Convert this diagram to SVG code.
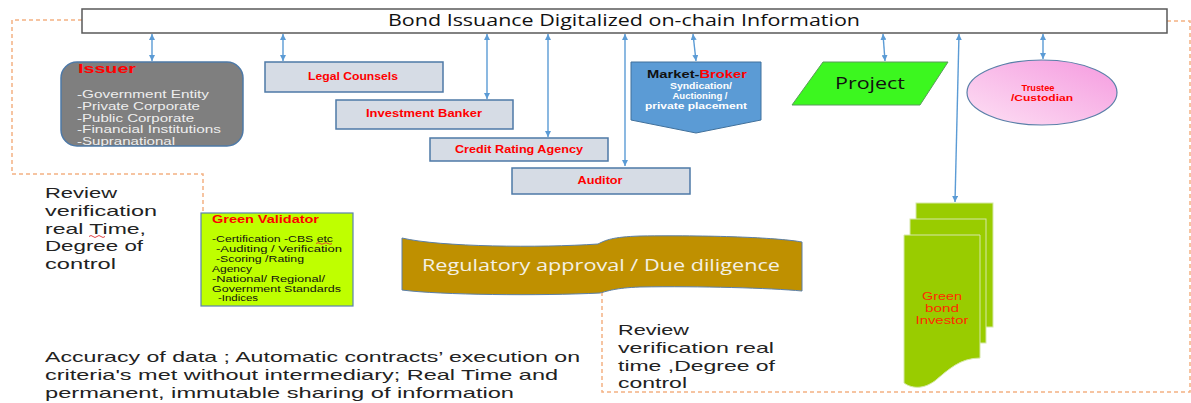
<svg xmlns="http://www.w3.org/2000/svg" width="1191" height="403" viewBox="0 0 1191 403">
<style>
text{font-family:"Open Sans","Liberation Sans",sans-serif}
.sm{font-family:"Liberation Sans","Open Sans",sans-serif}
.box{fill:#d6dce5;stroke:#4e79a7;stroke-width:1.5}
.lbl{fill:#ff0000;font-weight:bold;font-size:10px;text-anchor:middle}
.tl{fill:#ff0000;font-weight:bold;font-size:8.5px;text-anchor:middle}
.arrow{stroke:#5b9bd5;stroke-width:1.4;fill:none;marker-start:url(#ah);marker-end:url(#ah)}
.dash{stroke:#f4b183;stroke-width:1.5;fill:none;stroke-dasharray:4 3}
.big{font-family:"Liberation Sans","Open Sans",sans-serif;font-size:14.5px;fill:#222}
.iss{font-size:10px;fill:#eeeeee}
.gv{font-size:8.5px;fill:#111}
.mb{font-size:9px;fill:#ffffff;text-anchor:middle;font-weight:bold}
.page{fill:#99cc00;stroke:#d6e8a8;stroke-width:1}
.gb{font-size:10px;fill:#ff2a00;text-anchor:middle}
.squig{stroke:#e03030;stroke-width:0.9;fill:none}
</style>
<defs>
<marker id="ah" viewBox="0 0 6 6" refX="6" refY="3" markerWidth="6" markerHeight="6" markerUnits="userSpaceOnUse" orient="auto-start-reverse">
<path d="M0,0 L6,3 L0,6 z" fill="#5b9bd5"/>
</marker>
<linearGradient id="pink" x1="0" y1="1" x2="1" y2="0">
<stop offset="0" stop-color="#fde0f4"/>
<stop offset="1" stop-color="#f59adf"/>
</linearGradient>
<clipPath id="issClip"><rect x="61" y="62" width="182" height="84" rx="16"/></clipPath>
</defs>

<g id="borders">
<path class="dash" d="M82,20 H12 V174 H203 V235"/>
<path class="dash" d="M1167,21 H1190 V392 H602 V292"/>
</g>

<g id="title">
<rect x="82" y="9" width="1085" height="24" fill="#ffffff" stroke="#595959" stroke-width="1.5"/>
<text x="388" y="26" font-size="15.5" fill="#111" textLength="472" lengthAdjust="spacingAndGlyphs">Bond Issuance Digitalized on-chain Information</text>
</g>

<g id="issuer">
<rect x="61" y="62" width="182" height="84" rx="16" fill="#7f7f7f" stroke="#4e79a7" stroke-width="1.5"/>
<text class="sm" x="78" y="73" font-size="13" font-weight="bold" fill="#ff0000" textLength="58" lengthAdjust="spacingAndGlyphs">Issuer</text>
<g clip-path="url(#issClip)">
<text class="sm iss" x="77" y="98" textLength="132" lengthAdjust="spacingAndGlyphs">-Government Entity</text>
<text class="sm iss" x="77" y="110" textLength="123" lengthAdjust="spacingAndGlyphs">-Private Corporate</text>
<text class="sm iss" x="77" y="122" textLength="117" lengthAdjust="spacingAndGlyphs">-Public Corporate</text>
<text class="sm iss" x="77" y="133" textLength="144" lengthAdjust="spacingAndGlyphs">-Financial Institutions</text>
<text class="sm iss" x="77" y="145" textLength="98" lengthAdjust="spacingAndGlyphs">-Supranational</text>
</g>
</g>

<g id="legal">
<rect class="box" x="265" y="62" width="178" height="30"/>
<text class="sm lbl" x="353" y="80" textLength="90" lengthAdjust="spacingAndGlyphs">Legal Counsels</text>
</g>
<g id="banker">
<rect class="box" x="336" y="100" width="177" height="29"/>
<text class="sm lbl" x="424" y="117" textLength="116" lengthAdjust="spacingAndGlyphs">Investment Banker</text>
</g>
<g id="rating">
<rect class="box" x="430" y="138" width="178" height="23"/>
<text class="sm lbl" x="519" y="153" textLength="128" lengthAdjust="spacingAndGlyphs">Credit Rating Agency</text>
</g>
<g id="auditor">
<rect class="box" x="512" y="168" width="178" height="26"/>
<text class="sm lbl" x="600" y="184" textLength="45" lengthAdjust="spacingAndGlyphs">Auditor</text>
</g>

<g id="broker">
<path d="M631,62 H761 V120 L696,133 L631,120 Z" fill="#5b9bd5" stroke="#41719c" stroke-width="1"/>
<text class="sm" x="697" y="78" font-size="11.5" font-weight="bold" text-anchor="middle" textLength="100" lengthAdjust="spacingAndGlyphs"><tspan fill="#111">Market-</tspan><tspan fill="#ff0000">Broker</tspan></text>
<text class="sm mb" x="701" y="88.5" textLength="62" lengthAdjust="spacingAndGlyphs">Syndication/</text>
<text class="sm mb" x="700" y="99" textLength="55" lengthAdjust="spacingAndGlyphs">Auctioning /</text>
<text class="sm mb" x="696" y="109" textLength="102" lengthAdjust="spacingAndGlyphs">private placement</text>
</g>

<g id="project">
<path d="M823,62 H948 L920,105 H792 Z" fill="#3cf71f" stroke="#5a9a5a" stroke-width="1"/>
<text x="870" y="89" font-size="17" fill="#111" text-anchor="middle" textLength="70" lengthAdjust="spacingAndGlyphs">Project</text>
</g>

<g id="trustee">
<ellipse cx="1042" cy="92.5" rx="75" ry="32.5" fill="url(#pink)" stroke="#5a7fa8" stroke-width="1.2"/>
<text class="sm tl" x="1038" y="90.5" textLength="33" lengthAdjust="spacingAndGlyphs">Trustee</text>
<text class="sm tl" x="1042" y="101" textLength="62" lengthAdjust="spacingAndGlyphs">/Custodian</text>
</g>

<g id="review-left">
<text class="big" x="45" y="198" textLength="72" lengthAdjust="spacingAndGlyphs">Review</text>
<text class="big" x="45" y="216" textLength="112" lengthAdjust="spacingAndGlyphs">verification</text>
<text class="big" x="45" y="233.5" textLength="101" lengthAdjust="spacingAndGlyphs">real Time,</text>
<text class="big" x="45" y="251" textLength="98" lengthAdjust="spacingAndGlyphs">Degree of</text>
<text class="big" x="45" y="269" textLength="71" lengthAdjust="spacingAndGlyphs">control</text>
<path class="squig" d="M89,236.5 q2,-2 4,0 t4,0 t4,0 t4,0"/>
</g>

<g id="validator">
<rect x="201" y="213" width="152" height="93" fill="#bfff00" stroke="#5b82b0" stroke-width="1.2"/>
<text class="sm" x="212" y="223" font-size="10.5" font-weight="bold" fill="#ff0000" textLength="107" lengthAdjust="spacingAndGlyphs">Green Validator</text>
<text class="sm gv" x="212" y="242" textLength="121" lengthAdjust="spacingAndGlyphs">-Certification -CBS etc</text>
<text class="sm gv" x="216" y="252" textLength="126" lengthAdjust="spacingAndGlyphs">-Auditing / Verification</text>
<text class="sm gv" x="216" y="262" textLength="88" lengthAdjust="spacingAndGlyphs">-Scoring /Rating</text>
<text class="sm gv" x="212" y="271.5" textLength="40" lengthAdjust="spacingAndGlyphs">Agency</text>
<text class="sm gv" x="212" y="281.5" textLength="113" lengthAdjust="spacingAndGlyphs">-National/ Regional/</text>
<text class="sm gv" x="212" y="291.5" textLength="129" lengthAdjust="spacingAndGlyphs">Government Standards</text>
<text class="sm gv" x="218" y="301" textLength="40" lengthAdjust="spacingAndGlyphs">-Indices</text>
<path class="squig" d="M316,243.5 q2,-1.6 4,0 t4,0 t4,0 t4,0"/>
</g>

<g id="regulatory">
<path d="M402,238 C440,247 540,248 598,244 C606,240 612,237 640,236 C720,235 780,238 802,242 L802,291 C770,288 700,286 640,287 C615,288 608,291 600,293 C540,296 440,295 402,290 Z" fill="#bf9000" stroke="#5b7fa8" stroke-width="1"/>
<text x="601" y="271" font-size="16" fill="#f4f0e4" text-anchor="middle" textLength="358" lengthAdjust="spacingAndGlyphs">Regulatory approval / Due diligence</text>
</g>

<g id="investor">
<rect class="page" x="916" y="203" width="77" height="124"/>
<rect class="page" x="910" y="219" width="76" height="124"/>
<path class="page" d="M904,235 H980 V358 C960,358 948,370 936,380 C926,388 914,390 904,383 Z"/>
<text class="sm gb" x="942" y="300" textLength="40" lengthAdjust="spacingAndGlyphs">Green</text>
<text class="sm gb" x="942" y="312" textLength="34" lengthAdjust="spacingAndGlyphs">bond</text>
<text class="sm gb" x="942" y="324" textLength="53" lengthAdjust="spacingAndGlyphs">Investor</text>
</g>

<g id="review-right">
<text class="big" x="618" y="335" textLength="71" lengthAdjust="spacingAndGlyphs">Review</text>
<text class="big" x="618" y="353" textLength="156" lengthAdjust="spacingAndGlyphs">verification real</text>
<text class="big" x="618" y="370.5" textLength="157" lengthAdjust="spacingAndGlyphs">time ,Degree of</text>
<text class="big" x="618" y="388" textLength="69" lengthAdjust="spacingAndGlyphs">control</text>
</g>

<g id="summary">
<text class="big" x="45" y="362" textLength="535" lengthAdjust="spacingAndGlyphs">Accuracy of data ; Automatic contracts’ execution  on</text>
<text class="big" x="45" y="380" textLength="513" lengthAdjust="spacingAndGlyphs">criteria's met without intermediary; Real Time  and</text>
<text class="big" x="45" y="397.5" textLength="469" lengthAdjust="spacingAndGlyphs">permanent, immutable  sharing of information</text>
</g>

<g id="connectors">
<line class="arrow" x1="152" y1="34" x2="152" y2="61"/>
<line class="arrow" x1="283" y1="34" x2="283" y2="61"/>
<line class="arrow" x1="487" y1="34" x2="487" y2="99"/>
<line class="arrow" x1="548" y1="34" x2="548" y2="137"/>
<line class="arrow" x1="625" y1="34" x2="625" y2="166"/>
<line class="arrow" x1="693" y1="34" x2="696" y2="61"/>
<line class="arrow" x1="883" y1="34" x2="885" y2="61"/>
<line class="arrow" x1="959" y1="34" x2="955" y2="202"/>
<line class="arrow" x1="1043" y1="34" x2="1043" y2="59"/>
</g>
</svg>
